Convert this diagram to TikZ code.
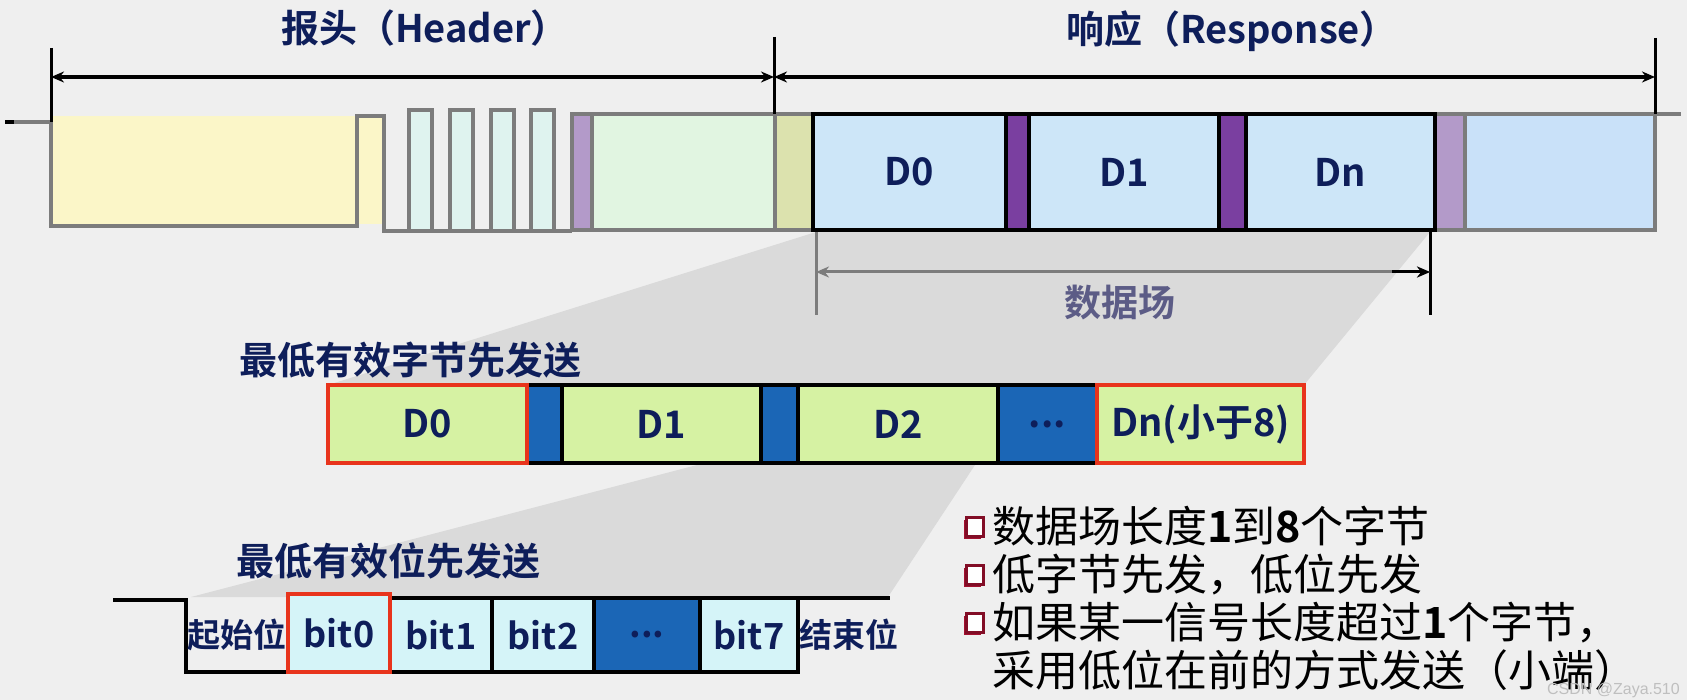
\documentclass[tikz,border=0pt]{standalone}
\usepackage{fontspec}
\setmainfont{Noto Sans CJK SC}[BoldFont={Noto Sans CJK SC Bold}]
\newfontfamily\wmfont{Liberation Sans}
\usetikzlibrary{arrows.meta,shadows}
\definecolor{bgc}{HTML}{EFEFEF}
\definecolor{shadec}{HTML}{DADADA}
\definecolor{sigc}{HTML}{7C7C7C}
\definecolor{navy}{HTML}{0E1E5A}
\definecolor{yellowc}{HTML}{FBF6C8}
\definecolor{pulsec}{HTML}{DFF3EF}
\definecolor{purpL}{HTML}{B39AC9}
\definecolor{purpD}{HTML}{7A3FA0}
\definecolor{hgreen}{HTML}{E1F5E1}
\definecolor{ygreen}{HTML}{DCE2AE}
\definecolor{dblue}{HTML}{CDE6F8}
\definecolor{lblue}{HTML}{C9E1F9}
\definecolor{mgreen}{HTML}{D6F2A3}
\definecolor{mblue}{HTML}{1B66B6}
\definecolor{redc}{HTML}{E8341C}
\definecolor{bcyan}{HTML}{D5F4F8}
\definecolor{fieldc}{HTML}{5C5C86}
\definecolor{bulred}{HTML}{A3102F}
\begin{document}
\begin{tikzpicture}[x=1pt,y=-1pt,
  cell/.style={inner sep=0pt, outer sep=0pt, anchor=north west},
  wh/.style 2 args={minimum width=#1pt, minimum height=#2pt},
  sigline/.style={draw=sigc, line width=4pt},
  blkcell/.style={cell, draw=black, line width=4pt},
  graycell/.style={cell, draw=sigc, line width=4pt},
  redcell/.style={cell, draw=redc, line width=4pt},
  dlabel/.style={font=\fontsize{38}{40}\selectfont\bfseries, text=navy},
  blabel/.style={font=\fontsize{36}{40}\selectfont\bfseries, text=navy},
  ttl/.style={font=\fontsize{38}{42}\selectfont\bfseries, text=navy, inner sep=0pt},
  sidelbl/.style={font=\fontsize{33}{36}\selectfont\bfseries, text=navy, inner sep=0pt},
  btext/.style={font=\fontsize{43}{48}\selectfont, text=black, inner sep=0pt, anchor=west, align=left},
  bulletbox/.style={draw=bulred!80!black, line width=2.5pt, fill=white, inner sep=0pt, minimum width=17pt, minimum height=19pt,
     drop shadow={shadow xshift=-2.5pt, shadow yshift=-2.5pt, fill=bulred, opacity=1}},
  dim/.style={draw=black, line width=3.5pt, {Stealth[length=13pt,width=11pt]}-{Stealth[length=13pt,width=11pt]}},
  fieldarrow/.style={draw=sigc, line width=3pt, {Stealth[length=13pt,width=11pt]}-{Stealth[length=13pt,width=11pt]}},
  tick/.style={draw=black, line width=3pt},
]
\useasboundingbox (0,0) rectangle (1687,700);
\fill[bgc] (0,0) rectangle (1687,700);
% projection shading
\fill[shadec] (816,232) -- (1430,232) -- (1304,385) -- (328,385) -- cycle;
\fill[shadec] (697,465) -- (975,465) -- (888,597) -- (191,597) -- cycle;

% ---------- top frame ----------
\fill[yellowc] (53,116) rectangle (384,224);
\draw[sigline] (5,122) -- (51,122) -- (51,226) -- (357,226) -- (357,116) -- (384,116) -- (384,231) -- (572,231);
\draw[black, line width=4pt] (5,122) -- (14,122);
\node[graycell, fill=pulsec, wh={23}{121}] (p1) at (409,110) {};
\node[graycell, fill=pulsec, wh={23}{121}] (p2) at (450,110) {};
\node[graycell, fill=pulsec, wh={23}{121}] (p3) at (491,110) {};
\node[graycell, fill=pulsec, wh={23}{121}] (p4) at (531,110) {};
\node[graycell, fill=purpL, wh={20}{116}] (hp) at (572,114) {};
\node[graycell, fill=hgreen, wh={183}{116}] (hg) at (592,114) {};
\node[graycell, fill=ygreen, wh={38}{116}] (hyg) at (775,114) {};
\node[graycell, fill=purpL, wh={30}{116}] (rlp) at (1435,114) {};
\node[graycell, fill=lblue, wh={190}{116}] (rlb) at (1465,114) {};
\coordinate (tailend) at (1681,114);
\draw[sigline] (rlb.north east) -- (tailend);
\node[blkcell, fill=dblue, wh={193}{116}, dlabel] (rd0) at (813,114) {D0};
\node[blkcell, fill=purpD, wh={23}{116}] (rb1) at (1006,114) {};
\node[blkcell, fill=dblue, wh={190}{116}, dlabel] (rd1) at (1029,114) {D1};
\node[blkcell, fill=purpD, wh={27}{116}] (rb2) at (1219,114) {};
\node[blkcell, fill=dblue, wh={189}{116}, dlabel] (rdn) at (1246,114) {Dn};

% dimension marks
\coordinate (tlt) at (51,48);   \coordinate (tlb) at (51,122);
\coordinate (tmt) at (774,37);  \coordinate (tmb) at (774,114);
\coordinate (trt) at (1655,38); \coordinate (trb) at (1655,114);
\draw[tick] (tlt) -- (tlb);
\draw[tick] (tmt) -- (tmb);
\draw[tick] (trt) -- (trb);
\coordinate (al) at (51,77); \coordinate (am) at (774,77); \coordinate (ar) at (1655,77);
\draw[dim] (al) -- (am);
\draw[dim] (am) -- (ar);
\node[ttl] (hdr) at (425,28) {报头（Header）};
\node[ttl] (rsp) at (1232,31) {响应（Response）};

% data field marks
\coordinate (fl1) at (816,232); \coordinate (fl2) at (816,315);
\coordinate (fr1) at (1430,232); \coordinate (fr2) at (1430,315);
\coordinate (fal) at (816,272); \coordinate (far) at (1430,272); \coordinate (fam) at (1392,272);
\draw[draw=sigc, line width=3pt] (fl1) -- (fl2);
\draw[draw=black, line width=3pt] (fr1) -- (fr2);
\draw[fieldarrow] (fal) -- (far);
\draw[draw=black, line width=3pt, -{Stealth[length=13pt,width=11pt]}] (fam) -- (far);
\node[font=\fontsize{37}{40}\selectfont\bfseries, text=fieldc] (field) at (1120,303) {数据场};

% ---------- middle byte bar ----------
\node[ttl, anchor=west] (t1) at (239,360) {最低有效字节先发送};
\node[blkcell, fill=mblue, wh={35}{78}] (mb1) at (527,385) {};
\node[blkcell, fill=mgreen, wh={199}{78}, dlabel] (md1) at (562,385) {D1};
\node[blkcell, fill=mblue, wh={37}{78}] (mb2) at (761,385) {};
\node[blkcell, fill=mgreen, wh={200}{78}, dlabel] (md2) at (798,385) {D2};
\node[blkcell, fill=mblue, wh={99}{78}, dlabel] (mdots) at (998,385) {...};
\node[redcell, fill=mgreen, wh={199}{78}, dlabel] (md0) at (328,385) {D0};
\node[redcell, fill=mgreen, wh={207}{78}, dlabel] (mdn) at (1097,385) {Dn(小于8)};

% ---------- bit row ----------
\node[ttl, anchor=west] (t2) at (236,561) {最低有效位先发送};
\coordinate (s0) at (113,600); \coordinate (s1) at (186,600);
\coordinate (s2) at (186,672); \coordinate (s3) at (798,672);
\coordinate (s4) at (798,598); \coordinate (s5) at (890,598);
\draw[black, line width=4pt] (s0) -- (s1) -- (s2) -- (s3) -- (s4) -- (s5);
\node[blkcell, line width=3.5pt, fill=bcyan, wh={102}{74}, blabel] (b1) at (390,598) {bit1};
\node[blkcell, line width=3.5pt, fill=bcyan, wh={102}{74}, blabel] (b2) at (492,598) {bit2};
\node[blkcell, line width=3.5pt, fill=mblue, wh={106}{74}, blabel] (bd) at (594,598) {...};
\node[blkcell, line width=3.5pt, fill=bcyan, wh={98}{74}, blabel] (b7) at (700,598) {bit7};
\node[redcell, fill=bcyan, wh={102}{78}, blabel] (b0) at (288,594) {bit0};
\node[sidelbl] (start) at (237,635) {起始位};
\node[sidelbl] (stop) at (849,635) {结束位};

% ---------- bullets ----------
\node[bulletbox] (q1) at (975,527) {};
\node[bulletbox] (q2) at (975,575) {};
\node[bulletbox] (q3) at (975,623) {};
\node[btext] (bl) at (992,598) {数据场长度\textbf{1}到\textbf{8}个字节\\低字节先发，低位先发\\如果某一信号长度超过\textbf{1}个字节，\\采用低位在前的方式发送（小端）};
\node[font=\wmfont\fontsize{16}{17}\selectfont, text=black!25, anchor=east, inner sep=0pt] (wm) at (1680,690) {CSDN @Zaya.510};
\end{tikzpicture}
\end{document}
